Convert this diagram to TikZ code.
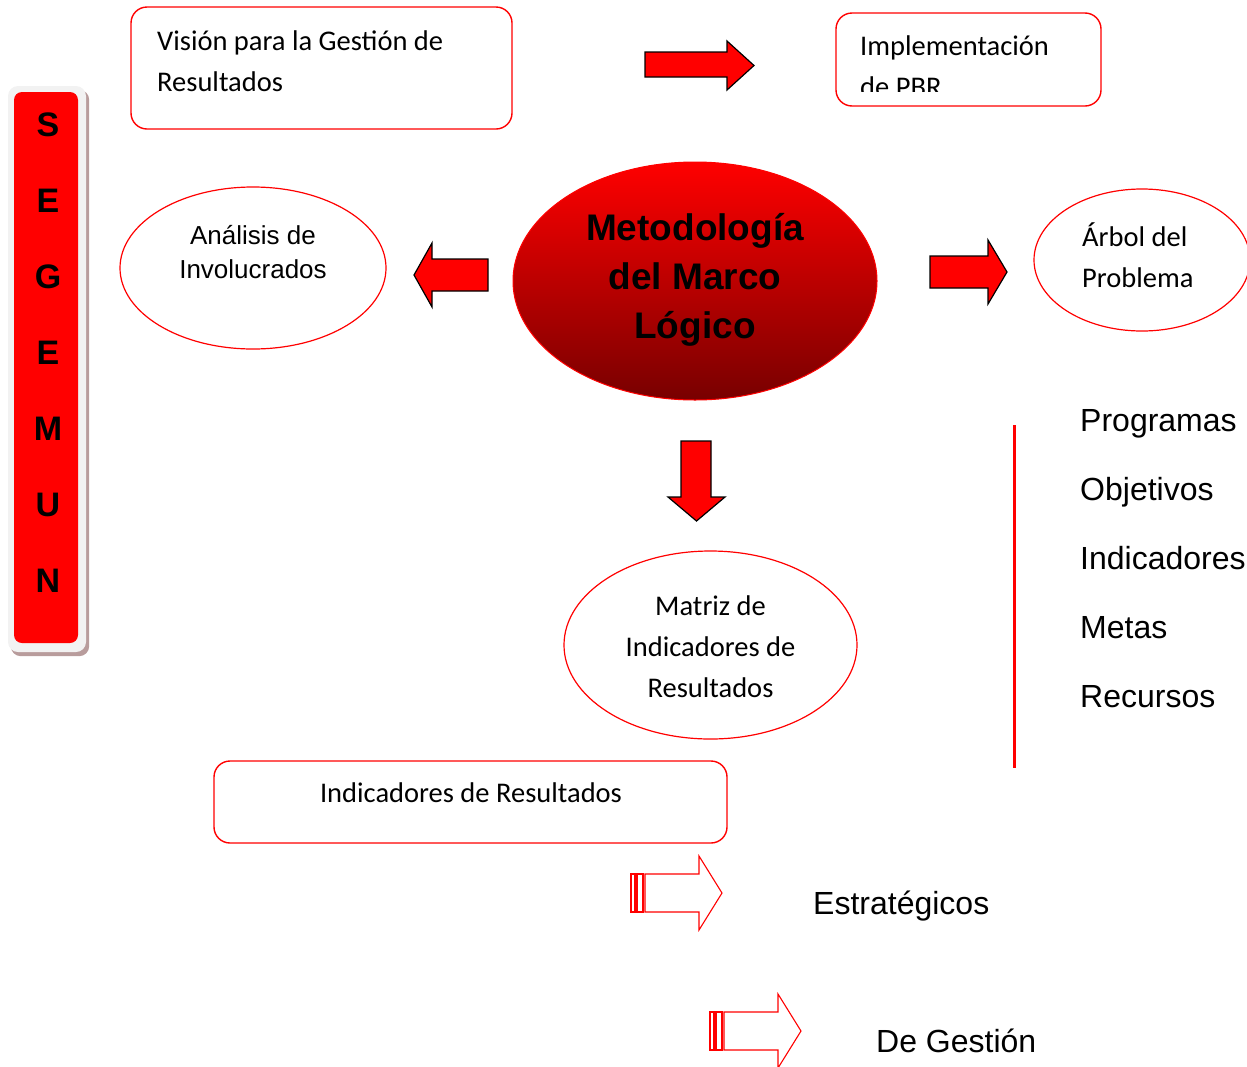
\documentclass[tikz,border=0pt]{standalone}
\usepackage{fontspec}
\setmainfont{Carlito}
\newfontfamily\arialfont{Liberation Sans}
\usetikzlibrary{shapes.geometric,positioning,calc,backgrounds}
\definecolor{mlred}   {HTML}{FF0000}
\definecolor{mldark}  {HTML}{780000}
\definecolor{barbg}   {HTML}{F2F2F2}
\definecolor{barshade}{HTML}{B89C9C}
\tikzset{
  rbox/.style   ={draw=mlred, fill=white, line width=1.4pt, rounded corners=16pt,
                  inner sep=0pt},
  oval/.style   ={ellipse, draw=mlred, fill=white, line width=1.2pt, inner sep=0pt},
  txt/.style    ={font=\fontsize{28.5}{41}\selectfont, inner sep=0pt},
  atxt/.style   ={font=\arialfont\fontsize{26}{34}\selectfont, inner sep=0pt},
  ltxt/.style   ={font=\arialfont\fontsize{32}{38}\selectfont, inner sep=0pt,
                  anchor=base west},
  letter/.style ={font=\arialfont\bfseries\fontsize{34}{34}\selectfont, inner sep=0pt},
  blk/.style    ={draw=black, fill=mlred, line width=1.2pt, line join=miter},
  hollow/.style ={draw=mlred, line width=1.1pt, fill=white},
  stripearrow/.pic={
    \draw[hollow] (0,-19) rectangle (4,19);
    \draw[hollow] (6,-19) rectangle (12,19);
    \draw[hollow] (14,-19) -- (68,-19) -- (68,-37) -- (91,0) -- (68,37)
      -- (68,19) -- (14,19) -- cycle;
  },
}

\begin{document}
\begin{tikzpicture}[x=1pt,y=-1pt]
  \useasboundingbox (0,0) rectangle (1247,1066);

  % SEGEMUN bar
  \node[fill=barbg, rounded corners=10pt, minimum width=78pt, minimum height=566pt]
    (segbar) at (47,369) {};
  \begin{scope}[on background layer]
    \fill[barshade, rounded corners=10pt]
      ($(segbar.south west)+(3,4)$) rectangle ($(segbar.north east)+(3,4)$);
  \end{scope}
  \node[fill=mlred, rounded corners=8pt, minimum width=64pt, minimum height=551pt]
    (segred) at (46,367.5) {};
  \foreach \c [count=\i from 0] in {S,E,G,E,M,U,N}
    \node[letter] (seg\i) at (48,125+76*\i) {\c};

  % top row
  \node[rbox, minimum width=381pt, minimum height=122pt] (vision) at (321.5,68) {};
  \node[txt, align=left, anchor=west] (visiontxt) at (157,61)
    {Visión para la Gestión de\\Resultados};
  \draw[blk] (645,52) -- (727,52) -- (727,41) -- (754,65.5) -- (727,90)
    -- (727,77) -- (645,77) -- cycle;
  \node[rbox, minimum width=265pt, minimum height=93pt] (impl) at (968.5,59.5) {};
  \begin{scope}
    \clip (836,13) rectangle (1101,91);
    \node[txt, anchor=north west, align=left] (impltxt) at (860,36)
      {Implementación\\de PBR};
  \end{scope}

  % middle row
  \node[oval, minimum width=266pt, minimum height=162pt] (analisis) at (253,268) {};
  \node[atxt, align=center] (analisistxt) at (253,252) {Análisis de\\Involucrados};
  \draw[blk] (488,259) -- (432,259) -- (432,243) -- (414,275) -- (432,307)
    -- (432,291) -- (488,291) -- cycle;
  \node[ellipse, draw=mlred, line width=1pt, top color=mlred, bottom color=mldark,
        minimum width=364pt, minimum height=238pt, inner sep=0pt] (metodo) at (695,281) {};
  \node[font=\arialfont\bfseries\fontsize{37}{49}\selectfont, align=center, inner sep=0pt]
    (metodotxt) at (695,280) {Metodología\\del Marco\\Lógico};
  \draw[blk] (930,256) -- (988,256) -- (988,240) -- (1007,272) -- (988,304)
    -- (988,288) -- (930,288) -- cycle;
  \node[oval, minimum width=216pt, minimum height=142pt] (arbol) at (1142,260) {};
  \node[txt, align=left, anchor=west] (arboltxt) at (1082,255) {Árbol del\\Problema};

  % lower part
  \draw[blk] (681,441) -- (711,441) -- (711,497) -- (725,497) -- (696.5,521)
    -- (668,497) -- (681,497) -- cycle;
  \node[oval, minimum width=293pt, minimum height=188pt] (matriz) at (710.5,645) {};
  \node[txt, align=center] (matriztxt) at (710.5,647)
    {Matriz de\\Indicadores de\\Resultados};

  \draw[mlred, line width=3pt] (1014,425) -- (1014,768);
  \foreach \w [count=\i from 0] in {Programas,Objetivos,Indicadores,Metas,Recursos}
    \node[ltxt] (lista\i) at (1080,431+69*\i) {\w};

  \node[rbox, minimum width=513pt, minimum height=82pt] (indres) at (470.5,802) {};
  \node[txt] (indrestxt) at (471,793) {Indicadores de Resultados};

  \pic at (631,893) {stripearrow};
  \pic at (710,1031) {stripearrow};
  \node[ltxt] (estrat) at (813,914) {Estratégicos};
  \node[ltxt] (gestion) at (876,1052) {De Gestión};
\end{tikzpicture}
\end{document}
